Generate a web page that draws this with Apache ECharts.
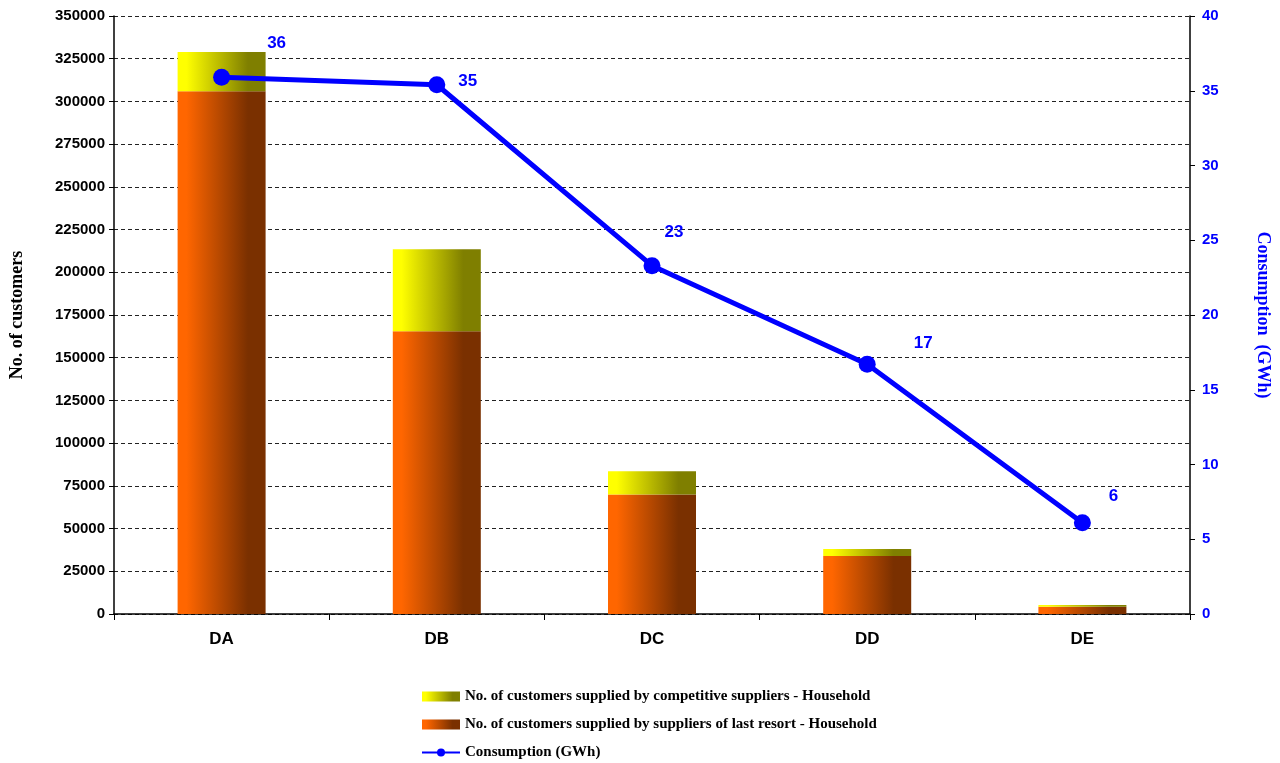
<!DOCTYPE html>
<html>
<head>
<meta charset="utf-8">
<script src="https://cdn.jsdelivr.net/npm/echarts@6/dist/echarts.min.js"></script>
<style>html,body{margin:0;padding:0;background:#fff}#c{width:1280px;height:763px}</style>
</head>
<body>
<div id="c"></div>
<script>
const categories = ['DA', 'DB', 'DC', 'DD', 'DE'];
const lastResort = [306000, 165500, 70000, 34000, 4300];
const competitive = [23000, 48000, 13500, 4000, 900];
const consumption = [35.9, 35.4, 23.3, 16.7, 6.1];
const leftTicks = { min: 0, max: 350000, interval: 25000 };
const rightTicks = { min: 0, max: 40, interval: 5 };
const names = {
  comp: 'No. of customers supplied by competitive suppliers - Household',
  last: 'No. of customers supplied by suppliers of last resort - Household',
  cons: 'Consumption (GWh)'
};

const sans = 'Liberation Sans, Arial, sans-serif';
const serif = 'Liberation Serif, Times New Roman, serif';
const grad = (a, b) => new echarts.graphic.LinearGradient(0, 0, 1, 0, [
  { offset: 0, color: a }, { offset: 0.1, color: a }, { offset: 0.8, color: b }, { offset: 1, color: b }
]);
const labelOffsets = [[55, -34], [31, -3], [22, -33], [56, -21], [31, -26]];

const chart = echarts.init(document.getElementById('c'));
chart.setOption({
  animation: false,
  grid: { left: 114, right: 87, top: 16, bottom: 149 },
  legend: {
    orient: 'vertical', left: 421, top: 689, padding: 0, itemWidth: 38, itemHeight: 10, itemGap: 13,
    height: 90,
    textStyle: { fontFamily: serif, fontWeight: 'bold', fontSize: 15, color: '#000' },
    data: [{ name: names.comp, icon: 'rect' }, { name: names.last, icon: 'rect' }, { name: names.cons }]
  },
  xAxis: {
    type: 'category', data: categories,
    axisLine: { lineStyle: { color: '#000', width: 1.5 } },
    axisTick: { show: true, length: 6, lineStyle: { color: '#000' } },
    axisLabel: { fontFamily: sans, fontWeight: 'bold', fontSize: 17, color: '#000', margin: 17 }
  },
  yAxis: [{
    type: 'value', min: leftTicks.min, max: leftTicks.max, interval: leftTicks.interval,
    name: 'No. of customers', nameLocation: 'middle', nameGap: 88, nameRotate: 90,
    nameTextStyle: { fontFamily: serif, fontWeight: 'bold', fontSize: 18, color: '#000' },
    axisLine: { show: true, lineStyle: { color: '#000', width: 1.5 } },
    axisTick: { show: true, length: 5, lineStyle: { color: '#000' } },
    axisLabel: { fontFamily: sans, fontWeight: 'bold', fontSize: 15, color: '#000', margin: 9, formatter: v => String(v) },
    splitLine: { show: true, lineStyle: { color: '#222', type: [4, 3], width: 1 } }
  }, {
    type: 'value', min: rightTicks.min, max: rightTicks.max, interval: rightTicks.interval,
    position: 'right',
    name: 'Consumption  (GWh)', nameLocation: 'middle', nameGap: 64, nameRotate: -90,
    nameTextStyle: { fontFamily: serif, fontWeight: 'bold', fontSize: 18, color: '#0000FF' },
    axisLine: { show: true, lineStyle: { color: '#000', width: 1.5 } },
    axisTick: { show: true, length: 5, lineStyle: { color: '#000' } },
    axisLabel: { fontFamily: sans, fontWeight: 'bold', fontSize: 15, color: '#0000FF', margin: 12 },
    splitLine: { show: false }
  }],
  series: [{
    name: names.last, type: 'bar', stack: 'c', data: lastResort, barWidth: 88,
    itemStyle: { color: grad('#FF6600', '#7A3000') }
  }, {
    name: names.comp, type: 'bar', stack: 'c', data: competitive, barWidth: 88,
    itemStyle: { color: grad('#FFFF00', '#7F7F00') }
  }, {
    name: names.cons, type: 'line', yAxisIndex: 1, z: 10,
    data: consumption.map((v, i) => ({
      value: v,
      label: { offset: labelOffsets[i] }
    })),
    symbol: 'circle', symbolSize: 17,
    lineStyle: { color: '#0000FF', width: 5 },
    itemStyle: { color: '#0000FF' },
    label: {
      show: true, position: 'inside',
      formatter: p => Math.round(p.value),
      fontFamily: sans, fontWeight: 'bold', fontSize: 17, color: '#0000FF'
    }
  }]
});
</script>
</body>
</html>
